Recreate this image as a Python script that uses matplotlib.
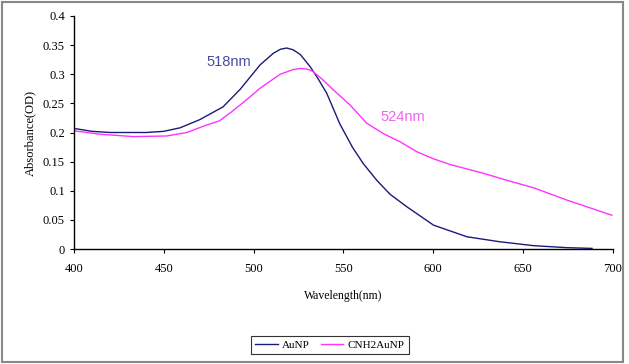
import matplotlib
matplotlib.use("Agg")
import matplotlib.pyplot as plt
from matplotlib.patches import Rectangle

wl_aunp = [400, 410, 420, 440, 450, 459, 470, 483, 492.5, 503.6, 511, 515, 518.5, 522, 526,
           531.5, 536, 540.8, 548, 555, 561, 568.6, 576, 585.3, 600.2, 618.8, 637, 656,
           674.5, 688.5]
abs_aunp = [0.207, 0.202, 0.200, 0.200, 0.202, 0.208, 0.222, 0.244, 0.274, 0.316, 0.336,
            0.343, 0.345, 0.342, 0.334, 0.313, 0.292, 0.267, 0.215, 0.175, 0.147, 0.118,
            0.094, 0.0726, 0.041, 0.021, 0.0125, 0.0057, 0.0023, 0.001]

wl_cnh2 = [400, 414.5, 433, 451.6, 462.8, 474, 481, 488, 496, 503.6, 514.8, 522, 526, 529.6,
           533, 538, 544.5, 553.8, 563, 572.3, 581.6, 590.9, 600, 609.5, 628, 641, 656,
           674.5, 699.5]
abs_cnh2 = [0.203, 0.197, 0.193, 0.194, 0.200, 0.213, 0.220, 0.236, 0.256, 0.276, 0.300,
            0.308, 0.310, 0.309, 0.305, 0.292, 0.273, 0.247, 0.216, 0.198, 0.184, 0.167,
            0.155, 0.145, 0.13, 0.118, 0.105, 0.084, 0.058]

x_ticks = [400, 450, 500, 550, 600, 650, 700]
y_ticks = [0, 0.05, 0.1, 0.15, 0.2, 0.25, 0.3, 0.35, 0.4]
y_labels = ["0", "0.05", "0.1", "0.15", "0.2", "0.25", "0.3", "0.35", "0.4"]

fig = plt.figure(figsize=(6.29, 3.64), dpi=100)
ax = fig.add_axes([74/629, 1-249/364, (612.7-74)/629, (249-16)/364])

ax.plot(wl_aunp, abs_aunp, color="#1a1a7a", lw=1.0, label="AuNP")
ax.plot(wl_cnh2, abs_cnh2, color="#ff33ff", lw=1.0, label="CNH2AuNP")

ax.set_xlim(400, 700)
ax.set_ylim(0, 0.4)
ax.set_xticks(x_ticks)
ax.set_yticks(y_ticks)
ax.set_yticklabels(y_labels)
serif = "Liberation Serif"
for lab in ax.get_xticklabels() + ax.get_yticklabels():
    lab.set_fontfamily(serif)
    lab.set_fontsize(9)
ax.tick_params(direction="out", length=3, width=0.8, color="black")
ax.tick_params(axis="x", pad=7)
ax.spines["top"].set_visible(False)
ax.spines["right"].set_visible(False)
for s in ("left", "bottom"):
    ax.spines[s].set_linewidth(1.0)

ax.set_xlabel("Wavelength(nm)", fontfamily=serif, fontsize=8.5, labelpad=11)
ax.set_ylabel("Absorbance(OD)", fontfamily=serif, fontsize=9, labelpad=5)

ax.text(474, 0.321, "518nm", color="#4a4aa0", fontsize=10.5, fontfamily="Liberation Sans",
        ha="left", va="center")
ax.text(570.5, 0.227, "524nm", color="#ee66ee", fontsize=10.5, fontfamily="Liberation Sans",
        ha="left", va="center")

leg = fig.legend(loc="center", bbox_to_anchor=(330/629, 1-345/364), ncol=2,
                 prop={"family": serif, "size": 8}, frameon=True, fancybox=False,
                 handlelength=2.0, handletextpad=0.4, columnspacing=1.0,
                 borderpad=0.4)
leg.get_frame().set_edgecolor("black")
leg.get_frame().set_linewidth(0.8)

fig.patches.append(Rectangle((2/629, 2/364), 621/629, 360/364, transform=fig.transFigure,
                             fill=False, edgecolor="#888888", lw=1.5))

fig.savefig("out.png", dpi=100)
